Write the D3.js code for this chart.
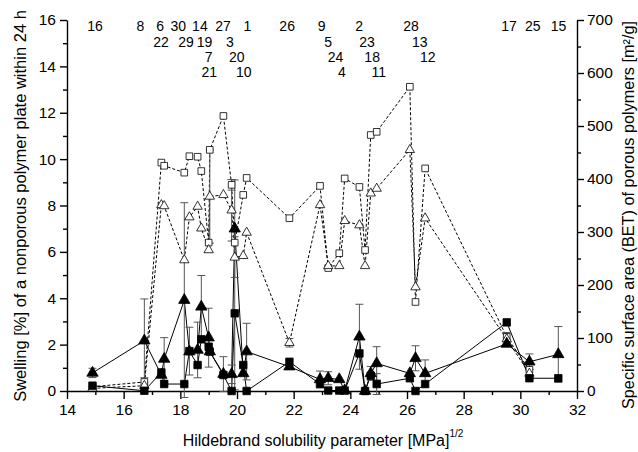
<!DOCTYPE html>
<html>
<head>
<meta charset="utf-8">
<script src="https://cdn.jsdelivr.net/npm/d3@7"></script>
<style>
body { margin: 0; background: #fff; }
svg { font-family: "Liberation Sans", Arial, sans-serif; }
</style>
</head>
<body>
<div id="chart"></div>
<script>
"use strict";

// solvents, sorted by Hildebrand parameter
const solvents = [16, 8, 6, 22, 30, 29, 14, 19, 7, 21, 27, 3, 20, 10, 1, 26, 9, 5, 24, 4, 2, 23, 18, 11, 28, 13, 12, 17, 25, 15];
const delta = [14.9, 16.73, 17.33, 17.43, 18.14, 18.32, 18.61, 18.74, 19.0, 19.04, 19.52, 19.81, 19.92, 20.22, 20.34, 21.85,
    22.93, 23.22, 23.61, 23.8, 24.32, 24.52, 24.72, 24.93, 26.1, 26.3, 26.64, 29.52, 30.32, 31.34];

// swelling [%] (left axis), filled symbols
const swellSquare = [0.23, 0.01, 0.8, 0.3, 0.3, 1.72, 1.12, 2.23, 1.91, 1.7, 0.69, 0, 3.35, 1.12, 0, 1.26,
    0.3, 0.02, 0.02, 0.02, 1.62, 0, 0.66, 0.3, 0.55, 0, 0.3, 2.96, 0.55, 0.55];
const swellSquareErr = [null, null, null, null, null, 1.03, null, null, null, null, null, null, 3.3, null, null, null,
    null, null, null, null, null, null, null, 0.45, null, null, null, null, null, null];
const swellTriangle = [0.78, 2.17, 0.69, 1.38, 3.92, 1.7, 1.77, 3.63, 2.3, 1.7, 0.73, 0.72, 7.0, 0.76, 1.7, 1.05,
    0.5, 0.55, 0.5, 0.02, 2.34, 0, 0.76, 1.19, 0.76, 1.41, 0.76, 2.03, 1.26, 1.58];
const swellTriangleErr = [0.2, 1.8, null, 0.92, 4.2, null, 1.2, 1.35, 1.27, null, 0.75, 0.4, 2.1, null, 1.22, null,
    0.36, 0.28, null, null, 1.4, null, 0.3, 0.72, null, 0.54, 0.58, null, 0.34, 1.2];

// BET surface area [m2/g] (right axis), open symbols
const betSquare = [8, 17, 431, 425, 412, 443, 442, 415, 280, 455, 519, 389, 280, 370, 402, 326,
    387, 232, 260, 401, 385, 266, 483, 489, 574, 168, 420, 102, 40, null];
const betSquareErr = [null, 8, null, null, null, null, null, null, null, null, null, 10, null, null, null, null,
    null, null, null, null, null, null, null, null, null, null, null, 8, null, null];
const betTriangle = [5, 10, 351, 349, 247, 328, 348, 307, 266, 367, 370, 341, 252, 255, 299, 91,
    351, 236, 236, 321, 313, 236, 373, 382, 455, 196, 326, 98, 33, null];
const betTriangleErr = [null, null, null, null, null, null, null, null, null, 88, null, 58, null, null, null, 8,
    null, null, null, null, null, null, null, null, null, null, null, 12, 8, null];

// solvent number labels on top, in four rows
const labelText = ["16", "8", "6", "30", "14", "27", "1", "26", "9", "2", "28", "17", "25", "15",
    "22", "29", "19", "3", "5", "23", "13",
    "7", "20", "24", "18", "12",
    "21", "10", "4", "11"];
const labelX = [14.99, 16.59, 17.29, 17.93, 18.69, 19.51, 20.37, 21.77, 22.99, 24.31, 26.14, 29.6, 30.44, 31.35,
    17.32, 18.2, 18.85, 19.75, 23.22, 24.59, 26.45,
    19.0, 19.99, 23.48, 24.77, 26.73,
    19.02, 20.24, 23.7, 25.0];
const labelRow = [0, 0, 0, 0, 0, 0, 0, 0, 0, 0, 0, 0, 0, 0,
    1, 1, 1, 1, 1, 1, 1,
    2, 2, 2, 2, 2,
    3, 3, 3, 3];

const xTicks = [14, 16, 18, 20, 22, 24, 26, 28, 30, 32];
const leftTicks = [0, 2, 4, 6, 8, 10, 12, 14, 16];
const rightTicks = [0, 100, 200, 300, 400, 500, 600, 700];

const width = 638, height = 452;
const svg = d3.select("#chart").append("svg")
    .attr("width", width)
    .attr("height", height);

const x = d3.scaleLinear().domain([14, 32]).range([67, 577]);
const yL = d3.scaleLinear().domain([0, 16]).range([391, 20]);
const yR = d3.scaleLinear().domain([0, 700]).range([391, 20]);

// axes
function styleAxis(g) {
    g.attr("font-size", 15.5).attr("font-family", null);
    g.selectAll("path.domain").attr("stroke-width", 1.4);
    g.selectAll(".tick line").attr("stroke-width", 1.4);
    g.selectAll(".tick text").attr("fill", "#000");
}
function minors(vals) {
    const out = [];
    for (let i = 0; i < vals.length - 1; i++) out.push((vals[i] + vals[i + 1]) / 2);
    return out;
}

svg.append("g")
    .attr("transform", "translate(0,391)")
    .call(d3.axisBottom(x).tickValues(xTicks).tickSize(8).tickPadding(5).tickSizeOuter(0))
    .call(styleAxis);
svg.append("g")
    .attr("transform", "translate(0,391)")
    .call(d3.axisBottom(x).tickValues(minors(xTicks)).tickSize(4).tickFormat(""))
    .call(styleAxis)
    .select("path.domain").remove();

svg.append("g")
    .attr("transform", "translate(67,0)")
    .call(d3.axisLeft(yL).tickValues(leftTicks).tickSize(7).tickPadding(4).tickSizeOuter(0))
    .call(styleAxis);
svg.append("g")
    .attr("transform", "translate(67,0)")
    .call(d3.axisLeft(yL).tickValues(minors(leftTicks)).tickSize(4).tickFormat(""))
    .call(styleAxis)
    .select("path.domain").remove();

svg.append("g")
    .attr("transform", "translate(577,0)")
    .call(d3.axisRight(yR).tickValues(rightTicks).tickSize(7).tickPadding(3).tickSizeOuter(0))
    .call(styleAxis);
svg.append("g")
    .attr("transform", "translate(577,0)")
    .call(d3.axisRight(yR).tickValues(minors(rightTicks)).tickSize(4).tickFormat(""))
    .call(styleAxis)
    .select("path.domain").remove();

// axis titles
svg.append("text")
    .attr("transform", "translate(26,206) rotate(-90)")
    .attr("text-anchor", "middle")
    .attr("font-size", 16.5)
    .text("Swelling [%] of a nonporous polymer plate within 24 h");
svg.append("text")
    .attr("transform", "translate(634,215) rotate(-90)")
    .attr("text-anchor", "middle")
    .attr("font-size", 16.3)
    .text("Specific surface area (BET) of porous polymers [m\u00b2/g]");
const xt = svg.append("text")
    .attr("x", 323)
    .attr("y", 446)
    .attr("text-anchor", "middle")
    .attr("font-size", 16);
xt.append("tspan").text("Hildebrand solubility parameter [MPa]");
xt.append("tspan").attr("dy", -9).attr("font-size", 10).text("1/2");

// solvent labels
const rowY = [31, 46.5, 61.5, 77];
svg.append("g").selectAll("text")
    .data(labelText)
    .join("text")
    .attr("x", (d, i) => x(labelX[i]))
    .attr("y", (d, i) => rowY[labelRow[i]])
    .attr("text-anchor", "middle")
    .attr("font-size", 14)
    .text(d => d);

// series
function points(vals, errs) {
    return delta.map((d, i) => ({ x: d, v: vals[i], e: errs[i] })).filter(p => p.v != null);
}
const series = [
    { pts: points(betSquare, betSquareErr), y: yR, dash: "3,2", shape: d3.symbolSquare, size: 44, fill: "#fff" },
    { pts: points(betTriangle, betTriangleErr), y: yR, dash: "3,2", shape: d3.symbolTriangle, size: 38, fill: "#fff" },
    { pts: points(swellSquare, swellSquareErr), y: yL, dash: null, shape: d3.symbolSquare, size: 56, fill: "#000" },
    { pts: points(swellTriangle, swellTriangleErr), y: yL, dash: null, shape: d3.symbolTriangle, size: 56, fill: "#000" }
];

const plot = svg.append("g");

// lines
series.forEach(s => {
    const line = d3.line().x(p => x(p.x)).y(p => s.y(p.v));
    plot.append("path")
        .datum(s.pts)
        .attr("d", line)
        .attr("fill", "none")
        .attr("stroke", "#000")
        .attr("stroke-width", 1)
        .attr("stroke-dasharray", s.dash);
});

// error bars
series.forEach(s => {
    const eb = plot.append("g")
        .attr("stroke", "#555")
        .attr("stroke-width", 1)
        .selectAll("g")
        .data(s.pts.filter(p => p.e != null))
        .join("g");
    eb.append("line")
        .attr("x1", p => x(p.x)).attr("x2", p => x(p.x))
        .attr("y1", p => s.y(p.v - p.e)).attr("y2", p => s.y(p.v + p.e));
    eb.append("line")
        .attr("x1", p => x(p.x) - 4).attr("x2", p => x(p.x) + 4)
        .attr("y1", p => s.y(p.v + p.e)).attr("y2", p => s.y(p.v + p.e));
    eb.append("line")
        .attr("x1", p => x(p.x) - 4).attr("x2", p => x(p.x) + 4)
        .attr("y1", p => s.y(p.v - p.e)).attr("y2", p => s.y(p.v - p.e));
});

// markers
series.forEach(s => {
    const sym = d3.symbol().type(s.shape).size(s.size);
    plot.append("g").selectAll("path")
        .data(s.pts)
        .join("path")
        .attr("transform", p => "translate(" + x(p.x) + "," + s.y(p.v) + ")")
        .attr("d", sym)
        .attr("fill", s.fill)
        .attr("stroke", "#000")
        .attr("stroke-width", 0.8);
});
</script>
</body>
</html>
